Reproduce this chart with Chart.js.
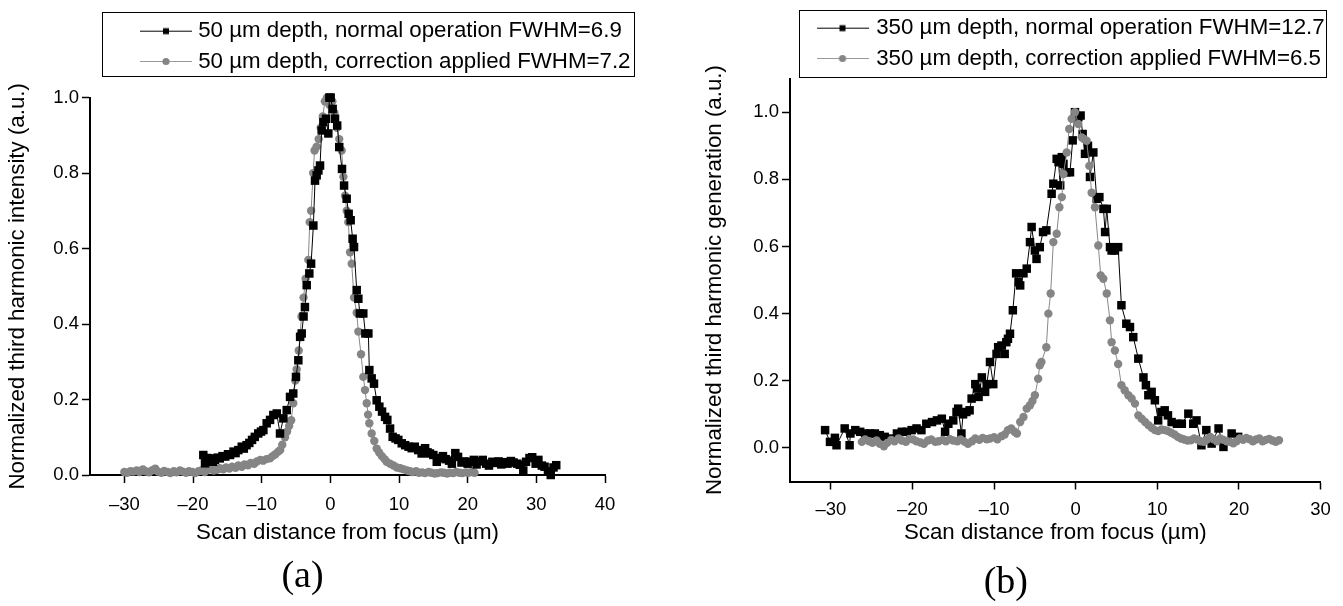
<!DOCTYPE html>
<html>
<head>
<meta charset="utf-8">
<script src="https://cdn.jsdelivr.net/npm/chart.js@4.4.1/dist/chart.umd.min.js"></script>
<style>
html,body{margin:0;padding:0;background:#fff;width:1343px;height:606px;overflow:hidden;position:relative}
canvas{position:absolute;top:0}
#ca{left:0}
#cb{left:671px}
</style>
</head>
<body>
<canvas id="ca" width="671" height="606"></canvas>
<canvas id="cb" width="672" height="606"></canvas>
<script>
// ---------- Panel (a): 50 um depth ----------
const xTicksA = [-30, -20, -10, 0, 10, 20, 30, 40];
const xLabelsA = ['\u201330', '\u201320', '\u201310', '0', '10', '20', '30', '40'];
const yTicksA = [0, 0.2, 0.4, 0.6, 0.8, 1.0];
const yLabelsA = ['0.0', '0.2', '0.4', '0.6', '0.8', '1.0'];
const seriesNamesA = ['50 \u00b5m depth, normal operation FWHM=6.9', '50 \u00b5m depth, correction applied FWHM=7.2'];

const normalA_x = [-18.5,-18.25,-17.9,-17.5,-17.1,-16.8,-16.4,-16.1,-15.7,-15.3,
  -14.9,-14.6,-14.1,-13.8,-13.4,-12.9,-12.6,-12.2,-11.8,-11.4,
  -11.0,-10.5,-10.1,-9.75,-9.27,-8.78,-8.3,-7.8,-7.33,-6.84,
  -6.35,-5.87,-5.4,-5.0,-4.66,-4.4,-4.17,-3.9,-3.7,-3.44,
  -3.06,-2.8,-2.47,-2.23,-1.99,-1.74,-1.5,-1.26,-1.02,-0.63,
  -0.29,-0.14,0.05,0.34,0.68,1.0,1.3,1.7,2.0,2.38,
  2.67,2.96,3.25,3.45,3.84,4.08,4.3,4.8,5.1,5.54,
  5.68,6.02,6.36,6.75,7.14,7.53,7.97,8.3,8.7,9.08,
  9.5,9.9,10.4,10.9,11.4,11.85,12.3,12.8,13.3,13.8,
  14.15,14.5,15.0,15.5,
  15.9,16.4,16.8,17.3,17.7,18.2,18.6,19.1,19.5,20.0,
  20.4,20.9,21.3,21.8,22.2,22.7,23.1,23.6,24.0,24.5,
  24.9,25.4,25.8,26.3,26.7,27.2,27.6,28.1,28.5,29.0,
  29.4,29.9,30.3,30.8,31.2,31.7,32.1,32.5,32.9];
const normalA_y = [0.053,0.031,0.045,0.044,0.035,0.040,0.046,0.044,0.050,0.049,
  0.055,0.053,0.062,0.058,0.066,0.075,0.070,0.079,0.085,0.093,
  0.101,0.110,0.115,0.119,0.137,0.146,0.159,0.163,0.110,0.150,
  0.172,0.207,0.216,0.260,0.304,0.366,0.375,0.420,0.445,0.503,
  0.534,0.560,0.661,0.780,0.794,0.807,0.820,0.913,0.935,0.944,
  0.905,1.000,1.000,0.970,0.944,0.926,0.869,0.811,0.767,0.732,
  0.692,0.675,0.626,0.604,0.490,0.467,0.428,0.428,0.375,0.375,
  0.278,0.256,0.242,0.198,0.181,0.168,0.154,0.146,0.123,0.101,
  0.097,0.093,0.084,0.079,0.075,0.071,0.075,0.066,0.057,0.071,
  0.060,0.057,0.053,0.035,
  0.045,0.050,0.042,0.038,0.030,0.058,0.048,0.033,0.036,0.030,
  0.035,0.040,0.028,0.036,0.040,0.030,0.025,0.035,0.032,0.036,
  0.028,0.034,0.030,0.037,0.033,0.030,0.027,0.012,0.035,0.045,
  0.047,0.030,0.040,0.025,0.022,0.010,0.000,0.020,0.026];

const correctedA_x = [-30.0,-29.6,-29.1,-28.7,-28.2,-27.8,-27.3,-26.9,-26.4,-26.0,
  -25.5,-25.1,-24.6,-24.2,-23.7,-23.3,-22.8,-22.4,-21.9,-21.5,
  -21.0,-20.6,-20.1,-19.7,-19.2,-18.8,-18.3,-17.9,-17.4,-17.0,
  -16.5,-16.1,-15.6,-15.2,-14.7,-14.3,-13.8,-13.4,-12.9,-12.5,
  -12.0,-11.6,-11.1,-10.7,-10.2,-9.8,-9.3,-8.8,-8.4,-8.0,
  -7.6,-7.3,-7.0,-6.6,-6.3,-6.0,-5.7,-5.4,-5.1,-4.9,
  -4.6,-4.4,-4.2,-3.9,-3.6,-3.2,-3.0,-2.8,-2.5,-2.3,
  -2.0,-1.7,-1.4,-1.1,-0.8,-0.5,-0.1,0.3,0.6,0.97,
  1.3,1.65,1.9,2.15,2.38,2.62,2.87,3.11,3.45,3.84,
  4.08,4.47,4.8,5.05,5.3,5.5,5.68,6.02,6.4,6.75,
  7.1,7.5,7.9,8.2,8.7,9.2,9.7,10.2,10.7,11.2,
  11.6,12.0,12.5,12.9,13.4,13.8,14.3,14.7,15.2,15.6,
  16.1,16.5,17.0,17.4,17.9,18.3,18.8,19.2,19.7,20.1,
  20.6,21.0];
const correctedA_y = [0.008,0.006,0.010,0.009,0.012,0.008,0.015,0.010,0.007,0.012,
  0.017,0.009,0.006,0.011,0.008,0.005,0.010,0.007,0.012,0.009,
  0.006,0.010,0.008,0.005,0.010,0.012,0.008,0.013,0.016,0.012,
  0.014,0.018,0.015,0.020,0.017,0.022,0.019,0.025,0.022,0.028,
  0.026,0.032,0.030,0.036,0.040,0.038,0.042,0.044,0.050,0.055,
  0.062,0.066,0.080,0.100,0.115,0.130,0.145,0.190,0.250,0.280,
  0.330,0.370,0.420,0.470,0.520,0.570,0.670,0.700,0.800,0.860,
  0.870,0.890,0.920,0.950,0.990,1.000,0.980,0.990,0.960,0.920,
  0.890,0.860,0.790,0.740,0.700,0.670,0.590,0.560,0.470,0.430,
  0.380,0.320,0.260,0.225,0.190,0.160,0.137,0.110,0.090,0.070,
  0.060,0.050,0.042,0.035,0.030,0.025,0.020,0.018,0.015,0.012,
  0.010,0.008,0.010,0.006,0.007,0.005,0.008,0.006,0.004,0.005,
  0.007,0.006,0.004,0.006,0.005,0.008,0.006,0.005,0.007,0.006,
  0.008,0.006];

// ---------- Panel (b): 350 um depth ----------
const xTicksB = [-30, -20, -10, 0, 10, 20, 30];
const xLabelsB = ['\u201330', '\u201320', '\u201310', '0', '10', '20', '30'];
const yTicksB = [0, 0.2, 0.4, 0.6, 0.8, 1.0];
const yLabelsB = ['0.0', '0.2', '0.4', '0.6', '0.8', '1.0'];
const seriesNamesB = ['350 \u00b5m depth, normal operation FWHM=12.7', '350 \u00b5m depth, correction applied FWHM=6.5'];

const normalB_x = [-30.7,-30.1,-29.5,-29.3,-28.3,-27.7,-27.6,-27.0,-26.4,-25.8,
  -25.2,-24.6,-24.0,-23.4,-22.75,-21.9,-21.3,-20.7,-20.1,-19.5,
  -18.9,-18.3,-17.6,-17.0,-16.4,-16.0,-15.6,-15.0,-14.6,-14.4,
  -14.0,-13.8,-13.4,-13.0,-12.75,-12.3,-12.1,-11.9,-11.5,-11.1,
  -10.9,-10.5,-10.1,-9.7,-9.5,-9.1,-8.7,-8.5,-8.3,-8.05,
  -7.7,-7.3,-7.0,-6.8,-6.4,-6.0,-5.6,-5.4,-5.0,-4.8,
  -4.4,-4.0,-3.6,-2.95,-2.74,-2.33,-2.1,-1.9,-1.7,-1.5,
  -1.1,-0.7,-0.37,-0.09,0.32,0.6,0.85,1.14,1.5,1.75,
  2.16,2.57,2.9,3.4,3.6,3.8,4.2,4.4,4.8,5.2,
  5.6,6.2,6.65,7.05,7.67,8.3,8.6,8.9,9.3,9.7,
  10.1,10.5,10.9,11.3,11.75,12.4,13.0,13.8,14.4,14.8,
  15.4,16.0,16.65,17.5,18.1,19.1,19.9];
const normalB_y = [0.053,0.018,0.030,0.008,0.058,0.008,0.043,0.053,0.048,0.043,
  0.043,0.043,0.038,0.033,0.028,0.043,0.048,0.048,0.053,0.058,
  0.053,0.072,0.077,0.082,0.087,0.048,0.072,0.082,0.107,0.117,
  0.043,0.100,0.107,0.112,0.147,0.190,0.177,0.152,0.210,0.167,
  0.190,0.256,0.190,0.280,0.300,0.305,0.280,0.315,0.325,0.340,
  0.410,0.520,0.494,0.484,0.520,0.534,0.613,0.658,0.588,0.563,
  0.598,0.643,0.648,0.757,0.787,0.861,0.851,0.782,0.866,0.846,
  0.821,0.821,0.916,1.000,0.985,0.990,0.935,0.876,0.900,0.807,
  0.880,0.742,0.747,0.712,0.643,0.712,0.598,0.588,0.588,0.598,
  0.425,0.370,0.360,0.330,0.266,0.210,0.187,0.157,0.167,0.142,
  0.082,0.107,0.112,0.097,0.077,0.072,0.072,0.102,0.072,0.082,
  0.008,0.053,0.013,0.058,0.003,0.043,0.033];

const correctedB_x = [-26.2,-25.8,-25.3,-24.9,-24.4,-24.0,-23.5,-23.1,-22.6,-22.2,
  -21.7,-21.3,-20.8,-20.4,-19.9,-19.5,-19.0,-18.6,-18.1,-17.7,
  -17.2,-16.8,-16.3,-15.9,-15.4,-15.0,-14.5,-14.1,-13.6,-13.2,
  -12.7,-12.3,-11.8,-11.4,-10.9,-10.5,-10.0,-9.6,-9.1,-8.7,
  -8.3,-7.9,-7.5,-7.2,-6.8,-6.4,-6.0,-5.6,-5.3,-5.0,
  -4.6,-4.4,-4.2,-3.6,-3.35,-3.07,-2.74,-2.33,-2.0,-1.7,
  -1.5,-1.1,-0.8,-0.5,-0.1,0.32,0.73,1.0,1.34,1.67,
  1.95,2.36,2.77,3.06,3.38,3.8,4.2,4.4,4.8,5.2,
  5.6,6.0,6.45,6.85,7.26,7.67,8.08,8.5,8.9,9.3,
  9.7,10.1,10.5,10.9,11.3,11.7,12.1,12.5,12.9,13.3,
  13.7,14.1,14.5,14.9,15.3,15.7,16.1,16.5,16.9,17.3,
  17.7,18.1,18.5,18.9,19.3,19.7,20.1,20.5,20.9,21.3,
  21.7,22.1,22.5,22.9,23.3,23.7,24.1,24.5,24.9];
const correctedB_y = [0.018,0.025,0.020,0.015,0.022,0.012,0.005,0.015,0.024,0.020,
  0.028,0.022,0.018,0.027,0.025,0.020,0.016,0.012,0.022,0.025,
  0.018,0.020,0.024,0.020,0.026,0.022,0.020,0.025,0.018,0.012,
  0.020,0.028,0.024,0.030,0.026,0.028,0.032,0.026,0.035,0.040,
  0.053,0.058,0.048,0.043,0.077,0.092,0.117,0.127,0.140,0.157,
  0.206,0.246,0.256,0.300,0.400,0.460,0.613,0.638,0.717,0.747,
  0.816,0.880,0.950,0.980,1.000,0.965,0.925,0.920,0.915,0.840,
  0.760,0.717,0.603,0.514,0.504,0.460,0.380,0.315,0.290,0.250,
  0.187,0.172,0.157,0.147,0.132,0.097,0.087,0.077,0.068,0.060,
  0.053,0.050,0.055,0.053,0.050,0.045,0.040,0.033,0.028,0.025,
  0.022,0.023,0.028,0.025,0.020,0.018,0.025,0.033,0.026,0.020,
  0.028,0.024,0.020,0.018,0.014,0.020,0.028,0.024,0.030,0.026,
  0.020,0.025,0.028,0.020,0.024,0.027,0.022,0.018,0.023];

// ---------- rendering ----------
const SANS = "'Liberation Sans', Arial, Helvetica, sans-serif";
const SERIF = "'Liberation Serif', 'Times New Roman', serif";
Chart.defaults.font.family = SANS;
Chart.defaults.color = '#000';

function pts(xs, ys) { return xs.map((x, i) => ({ x: x, y: ys[i] })); }

function legendSample(kind, lineColor, markColor) {
  const c = document.createElement('canvas');
  c.width = 52; c.height = 13;
  const g = c.getContext('2d');
  g.strokeStyle = lineColor; g.lineWidth = 1;
  g.beginPath(); g.moveTo(0, 6.5); g.lineTo(52, 6.5); g.stroke();
  g.fillStyle = markColor;
  if (kind === 'rect') { g.fillRect(23, 3.5, 6, 6); }
  else { g.beginPath(); g.arc(26, 6.5, 3.6, 0, Math.PI * 2); g.fill(); }
  return c;
}
const samples = [legendSample('rect', '#000', '#000'), legendSample('circle', '#999', '#858585')];

const legendPlace = {
  id: 'legendPlace',
  afterLayout(chart, args, o) {
    const lg = chart.legend;
    if (!lg) return;
    const h = lg.height;
    lg.left = o.x; lg.right = o.right; lg.top = o.y; lg.bottom = o.y + h;
  },
  afterDraw(chart, args, o) {
    const ctx = chart.ctx, f = o.frame;
    ctx.save();
    ctx.strokeStyle = '#000'; ctx.lineWidth = 1;
    ctx.strokeRect(f[0] + 0.5, f[1] + 0.5, f[2] - f[0], f[3] - f[1]);
    ctx.restore();
  }
};

function axisCommon() {
  return {
    grid: { drawOnChartArea: false, drawTicks: true, tickLength: 8, tickWidth: 1.5, tickColor: '#000' },
    border: { display: true, color: '#000', width: 2 }
  };
}

function makeChart(el, cfg) {
  const black = {
    label: cfg.names[0], data: pts(cfg.nx, cfg.ny), showLine: true,
    borderColor: '#000', borderWidth: 1, backgroundColor: '#000',
    pointStyle: 'rect', pointRadius: 6, pointBackgroundColor: '#000', pointBorderWidth: 0,
    order: cfg.blackOrder, clip: false
  };
  const gray = {
    label: cfg.names[1], data: pts(cfg.cx, cfg.cy), showLine: true,
    borderColor: '#888', borderWidth: 1, backgroundColor: '#858585',
    pointStyle: 'circle', pointRadius: 4.2, pointBackgroundColor: '#858585', pointBorderWidth: 0,
    order: cfg.grayOrder, clip: false
  };
  return new Chart(el, {
    type: 'scatter',
    data: { datasets: [black, gray] },
    plugins: [legendPlace],
    options: {
      responsive: false, animation: false, devicePixelRatio: 1, events: [],
      layout: { padding: cfg.pad },
      scales: {
        x: Object.assign(axisCommon(), {
          type: 'linear', position: 'bottom', min: cfg.xmin, max: cfg.xmax,
          afterFit: s => { s.height = cfg.xH; },
          afterBuildTicks: s => { s.ticks = cfg.xt.map(v => ({ value: v })); },
          ticks: { autoSkip: false, maxRotation: 0, padding: cfg.xPad, font: { size: 18.5 }, color: '#000',
                   callback: (v, i) => cfg.xl[i] },
          title: { display: true, text: 'Scan distance from focus (\u00b5m)', font: { size: 22.3 }, color: '#000', padding: { top: 0, bottom: 0 } }
        }),
        y: Object.assign(axisCommon(), {
          type: 'linear', position: 'left', min: cfg.ymin, max: cfg.ymax,
          afterFit: s => { s.width = cfg.yW; },
          afterBuildTicks: s => { s.ticks = cfg.yt.map(v => ({ value: v })); },
          ticks: { padding: 3, font: { size: 18.5 }, color: '#000', callback: (v, i) => cfg.yl[i] },
          title: { display: true, text: cfg.yTitle, font: { size: 22.3 }, color: '#000', padding: { top: cfg.yTitlePad, bottom: 0 } }
        })
      },
      plugins: {
        tooltip: { enabled: false },
        legend: {
          display: true, position: 'top', align: 'start',
          labels: {
            usePointStyle: true, pointStyleWidth: cfg.psw, padding: 8, color: '#000', font: { size: 22.3 },
            sort: (a, b) => a.datasetIndex - b.datasetIndex,
            generateLabels: chart => {
              const items = Chart.defaults.plugins.legend.labels.generateLabels(chart);
              items.forEach(it => { it.pointStyle = samples[it.datasetIndex]; });
              return items;
            }
          }
        },
        title: {
          display: true, position: 'bottom', text: cfg.tag, color: '#000',
          font: { family: SERIF, size: 38, weight: 'normal' }, padding: { top: cfg.tagPad, bottom: 0 }
        },
        legendPlace: cfg.legend
      }
    }
  });
}

makeChart(document.getElementById('ca'), {
  names: seriesNamesA, nx: normalA_x, ny: normalA_y, cx: correctedA_x, cy: correctedA_y,
  blackOrder: 0, grayOrder: 1,
  xmin: -35, xmax: 40, ymin: 0, ymax: 1.0,
  xt: xTicksA, xl: xLabelsA, yt: yTicksA, yl: yLabelsA,
  yTitle: 'Normalized third harmonic intensity (a.u.)',
  pad: { left: 0, right: 66, top: 27, bottom: 6.4 },
  xH: 71, yW: 90, xPad: 11, yTitlePad: 4, tagPad: 8, psw: 42, tag: '(a)',
  legend: { x: 137, right: 660, y: 12, frame: [102, 12, 634, 76] }
});

makeChart(document.getElementById('cb'), {
  names: seriesNamesB, nx: normalB_x, ny: normalB_y, cx: correctedB_x, cy: correctedB_y,
  blackOrder: 1, grayOrder: 0,
  xmin: -35, xmax: 30, ymin: -0.1, ymax: 1.1,
  xt: xTicksB, xl: xLabelsB, yt: yTicksB, yl: yLabelsB,
  yTitle: 'Normalized third harmonic generation (a.u.)',
  pad: { left: 20, right: 22.4, top: 8, bottom: 0 },
  xH: 64.9, yW: 99, xPad: 9, yTitlePad: 10.8, tagPad: 14, psw: 45, tag: '(b)',
  legend: { x: 141, right: 670, y: 9, frame: [128, 10, 655, 77] }
});
</script>
</body>
</html>
